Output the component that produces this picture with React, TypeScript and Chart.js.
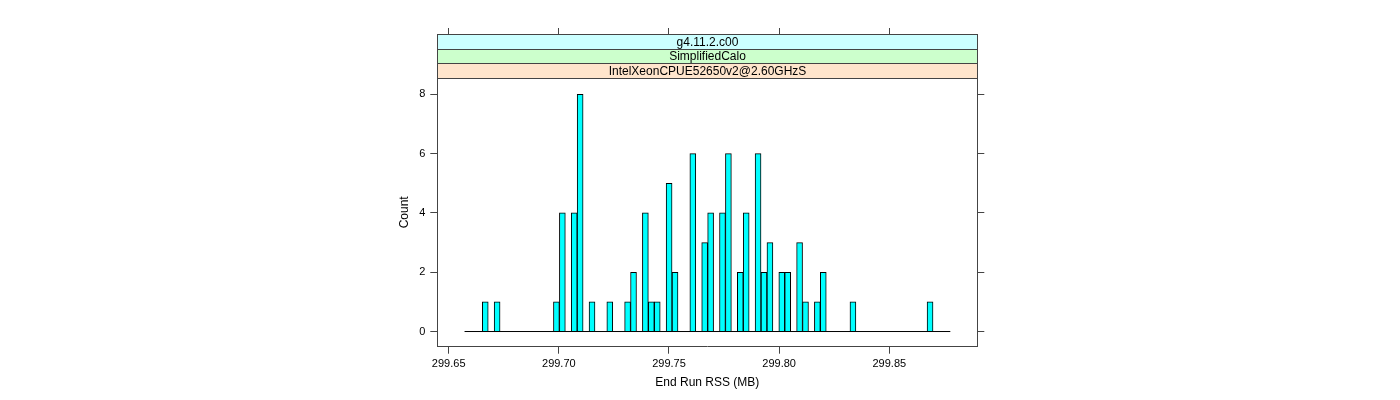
import { useEffect, useRef } from "react";
import { Chart, registerables } from "chart.js";

Chart.register(...registerables);

// Strip labels, top to bottom
const stripLabels = ["g4.11.2.c00", "SimplifiedCalo", "IntelXeonCPUE52650v2@2.60GHzS"];
const stripColors = ["#ccffff", "#ccffcc", "#ffe5cc"];

// Histogram: bin mid-points (MB) of the non-empty bins and their counts
const binMids = [
  299.6666, 299.67198, 299.6989, 299.7016, 299.70698, 299.70967, 299.71506,
  299.72313, 299.73121, 299.7339, 299.73928, 299.74198, 299.74467, 299.75005,
  299.75274, 299.76082, 299.7662, 299.7689, 299.77428, 299.77697, 299.78236,
  299.78505, 299.79043, 299.79312, 299.79582, 299.8012, 299.80389, 299.80928,
  299.81197, 299.81735, 299.82004, 299.8335, 299.8685,
];
const binCounts = [
  1, 1, 1, 4, 4, 8, 1,
  1, 1, 2, 4, 1, 1, 5,
  2, 6, 3, 4, 4, 6, 2,
  4, 6, 2, 3, 2, 2, 3,
  1, 1, 2, 1, 1,
];
// Outer histogram breaks (zero-count bins form the baseline)
const breakLow = 299.6572;
const breakHigh = 299.8777;

const xTicks = [299.65, 299.7, 299.75, 299.8, 299.85];
const yTicks = [0, 2, 4, 6, 8];
const xMin = 299.64483;
const xMax = 299.88995;
const yMin = -0.512;
const yMax = 8.55;

const FONT = "'Liberation Sans', Arial, Helvetica, sans-serif";
const AXIS_COLOR = "#444";

const stripPlugin = {
  id: "latticeStrips",
  afterDraw(chart: any) {
    const { ctx, chartArea } = chart;
    const h = 14.4;
    const al = (p: number) => Math.round(p - 0.5) + 0.5;
    const left = al(chartArea.left);
    const right = al(chartArea.right);
    ctx.save();
    stripLabels.forEach((label, i) => {
      const top = chartArea.top - (stripLabels.length - i) * h;
      const y0 = al(top);
      const y1 = al(top + h);
      ctx.fillStyle = stripColors[i];
      ctx.fillRect(left, y0, right - left, y1 - y0);
      ctx.strokeStyle = AXIS_COLOR;
      ctx.lineWidth = 1;
      ctx.strokeRect(left, y0, right - left, y1 - y0);
      ctx.fillStyle = "#000";
      ctx.font = `12px ${FONT}`;
      ctx.textAlign = "center";
      ctx.textBaseline = "middle";
      ctx.fillText(label, (left + right) / 2, top + h / 2 + 0.5);
    });
    ctx.restore();
  },
};

export default function App() {
  const ref = useRef<HTMLCanvasElement | null>(null);

  useEffect(() => {
    if (!ref.current) return;
    Chart.defaults.font.family = FONT;
    Chart.defaults.color = "#000";

    const setX = (s: any) => {
      s.ticks = xTicks.map((v) => ({ value: v }));
    };
    const setY = (s: any) => {
      s.ticks = yTicks.map((v) => ({ value: v }));
    };
    const gridBase = {
      drawOnChartArea: false,
      drawTicks: true,
      tickColor: AXIS_COLOR,
      tickWidth: 1,
    };
    const border = { display: true, color: AXIS_COLOR, width: 1 };

    const chart = new Chart(ref.current, {
      type: "bar",
      data: {
        datasets: [
          {
            type: "bar",
            data: binMids.map((x, i) => ({ x, y: binCounts[i] })),
            backgroundColor: "#00ffff",
            borderColor: "#000",
            borderWidth: 1,
            barPercentage: 1,
            categoryPercentage: 1,
            xAxisID: "x",
            yAxisID: "y",
          } as any,
          {
            type: "line",
            data: [
              { x: breakLow, y: 0 },
              { x: breakHigh, y: 0 },
            ],
            borderColor: "#000",
            borderWidth: 1,
            pointRadius: 0,
            xAxisID: "x",
            yAxisID: "y",
          } as any,
        ],
      },
      options: {
        responsive: false,
        animation: false,
        layout: { padding: { left: 377.3, right: 412.7, top: 28, bottom: 0 } },
        plugins: { legend: { display: false }, tooltip: { enabled: false } },
        scales: {
          x: {
            type: "linear",
            position: "bottom",
            min: xMin,
            max: xMax,
            offset: false,
            afterBuildTicks: setX,
            afterFit: (s: any) => {
              s.height = 53.3;
            },
            grid: { ...gridBase, tickLength: 7, offset: false },
            border,
            ticks: {
              font: { size: 11 },
              padding: 4,
              maxRotation: 0,
              autoSkip: false,
              callback: (v: any) => Number(v).toFixed(2),
            },
            title: {
              display: true,
              text: "End Run RSS (MB)",
              font: { size: 12 },
              padding: { top: 0, bottom: 9.8 },
            },
          },
          x2: {
            type: "linear",
            position: "top",
            min: xMin,
            max: xMax,
            offset: false,
            afterBuildTicks: setX,
            afterFit: (s: any) => {
              s.height = 50;
            },
            grid: { ...gridBase, tickLength: 50, offset: false },
            border,
            ticks: { display: false },
          },
          y: {
            type: "linear",
            position: "left",
            min: yMin,
            max: yMax,
            afterBuildTicks: setY,
            afterFit: (s: any) => {
              s.width = 60;
            },
            grid: { ...gridBase, tickLength: 7 },
            border,
            ticks: {
              font: { size: 11 },
              padding: 5,
              callback: (v: any) => String(v),
            },
            title: {
              display: true,
              text: "Count",
              font: { size: 12 },
              padding: { top: 20.5, bottom: 0 },
            },
          },
          y2: {
            type: "linear",
            position: "right",
            min: yMin,
            max: yMax,
            afterBuildTicks: setY,
            afterFit: (s: any) => {
              s.width = 10;
            },
            grid: { ...gridBase, tickLength: 7 },
            border,
            ticks: { display: false },
          },
        },
      } as any,
      plugins: [stripPlugin],
    });
    return () => chart.destroy();
  }, []);

  return (
    <div style={{ position: "absolute", left: 0, top: 0, width: 1400, height: 400, background: "#fff" }}>
      <canvas ref={ref} width={1400} height={400} style={{ display: "block" }} />
    </div>
  );
}
